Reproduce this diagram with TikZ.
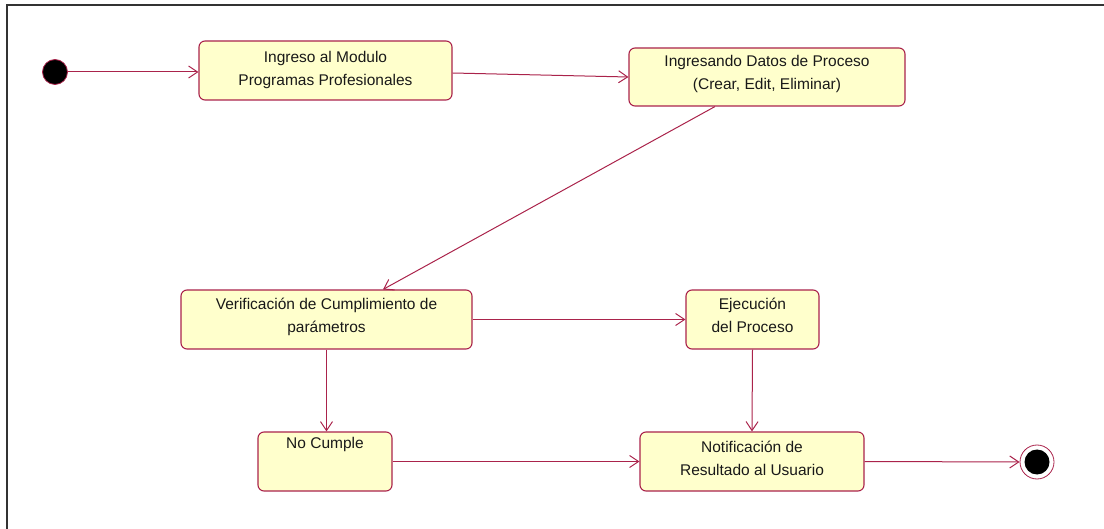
\documentclass[tikz,border=0pt]{standalone}
\usepackage{fontspec}
\setmainfont{Liberation Sans}
\usetikzlibrary{arrows.meta}
\definecolor{crim}{RGB}{170,35,75}
\definecolor{ylw}{RGB}{255,255,204}
\begin{document}
\begin{tikzpicture}[x=1pt,y=-1pt,
  state/.style={draw=crim, fill=ylw, line width=1.1pt, rounded corners=6pt, rectangle, inner sep=0pt},
  txt/.style={font=\fontsize{15.5}{23}\selectfont, align=center, inner sep=0pt, anchor=north, text=black!90},
  edge/.style={draw=crim, line width=1pt, -{Straight Barb[length=9pt,width=12pt,line width=1pt]}}]
\useasboundingbox (0,0) rectangle (1104,529);
\draw[line width=2pt, black!80] (1104,5) -- (7,5) -- (7,529);
% states
\node[circle, fill=black, draw=crim, line width=0.8pt, minimum size=25pt, inner sep=0pt] (init) at (55,72) {};
\node[state, minimum width=253pt, minimum height=59pt] (A) at (325.5,70.5) {};
\node[txt] (tA) at ([yshift=-11pt]A.north) {Ingreso al Modulo\\Programas Profesionales};
\node[state, minimum width=276pt, minimum height=58pt] (B) at (767,77) {};
\node[txt] (tB) at ([yshift=-8pt]B.north) {Ingresando Datos de Proceso\\(Crear, Edit, Eliminar)};
\node[state, minimum width=291pt, minimum height=59pt] (C) at (326.5,319.5) {};
\node[txt] (tC) at ([yshift=-8pt]C.north) {Verificación de Cumplimiento de\\parámetros};
\node[state, minimum width=133pt, minimum height=59pt] (D) at (752.5,319.5) {};
\node[txt] (tD) at ([yshift=-8pt]D.north) {Ejecución\\del Proceso};
\node[state, minimum width=134pt, minimum height=59pt] (E) at (325,461.5) {};
\node[txt] (tE) at ([yshift=-6pt]E.north) {No Cumple};
\node[state, minimum width=224pt, minimum height=59pt] (F) at (752,461.5) {};
\node[txt] (tF) at ([yshift=-9pt]F.north) {Notificación de\\Resultado al Usuario};
\node[circle, draw=crim, fill=white, line width=0.8pt, minimum size=34pt, inner sep=0pt] (fin) at (1037,462) {};
\node[circle, fill=black, minimum size=25pt, inner sep=0pt] (finin) at (fin.center) {};
% transitions
\draw[edge] (init) -- (A.west |- init);
\draw[edge] ([yshift=-2.5pt]A.east) -- (B.west);
\draw[edge] ([xshift=-52pt]B.south) -- ([xshift=56.5pt]C.north);
\draw[edge] (C.east) -- (D.west);
\draw[edge] (C.south) -- (C.south |- E.north);
\draw[edge] (D.south) -- (F.north);
\draw[edge] (E.east) -- (F.west);
\draw[edge] (F.east) -- (fin.west);
\end{tikzpicture}
\end{document}
